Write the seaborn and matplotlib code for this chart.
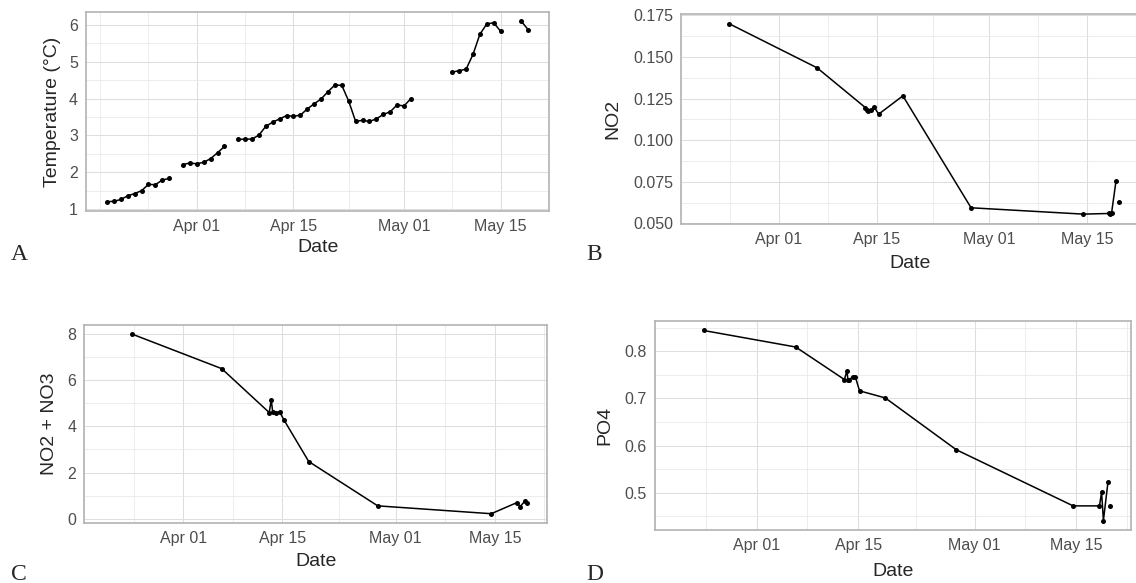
import numpy as np
import pandas as pd
import matplotlib
matplotlib.use("Agg")
import matplotlib.pyplot as plt
import matplotlib.dates as mdates
import seaborn as sns

nan = np.nan

# Panel A: daily water temperature (gaps = missing days)
TEMP_DATES = pd.date_range("2019-03-19", "2019-05-19", freq="D")
TEMP = [1.20, 1.21, 1.26, 1.36, 1.42, 1.50, 1.67, 1.66, 1.79, 1.83,
        nan,
        2.21, 2.25, 2.23, 2.27, 2.37, 2.53, 2.70,
        nan,
        2.89, 2.90, 2.90, 3.01, 3.25, 3.36, 3.45, 3.54, 3.52, 3.55, 3.72, 3.86, 3.99,
        4.19, 4.37, 4.36, 3.93, 3.38, 3.41, 3.38, 3.45, 3.57, 3.64, 3.83, 3.80, 4.00,
        nan, nan, nan, nan, nan,
        4.72, 4.76, 4.80, 5.20, 5.75, 6.03, 6.06, 5.83,
        nan, nan,
        6.10, 5.87]

# Panel B: NO2
NO2_DATES = ["2019-03-24 20:00", "2019-04-06 11:00", "2019-04-13 08:00", "2019-04-13 14:00",
             "2019-04-13 19:00", "2019-04-14 02:00", "2019-04-14 14:00", "2019-04-15 06:00",
             "2019-04-18 17:00", "2019-04-28 11:00", "2019-05-14 12:00", "2019-05-18 05:00",
             "2019-05-18 09:00", "2019-05-18 13:00", "2019-05-19 04:00", "2019-05-19 09:00",
             "2019-05-19 14:00"]
NO2 = [0.1700, 0.1434, 0.1196, 0.1180, 0.1174, 0.1180, 0.1200, 0.1156,
       0.1266, 0.0594, 0.0556, 0.0560, 0.0554, 0.0564, 0.0754, nan, 0.0626]

# Panel C: NO2 + NO3
NOX_DATES = ["2019-03-24 17:00", "2019-04-06 10:00", "2019-04-13 03:00", "2019-04-13 10:00",
             "2019-04-13 15:00", "2019-04-14 03:00", "2019-04-14 14:00", "2019-04-15 05:00",
             "2019-04-18 17:00", "2019-04-28 11:00", "2019-05-14 12:00", "2019-05-18 03:00",
             "2019-05-18 14:00", "2019-05-19 05:00", "2019-05-19 14:00"]
NOX = [8.00, 6.50, 4.60, 5.14, 4.62, 4.56, 4.64, 4.28, 2.48, 0.56, 0.22, 0.70, 0.53, 0.75, 0.68]

# Panel D: PO4
PO4_DATES = ["2019-03-24 17:00", "2019-04-06 09:00", "2019-04-13 02:00", "2019-04-13 10:00",
             "2019-04-13 14:00", "2019-04-13 17:00", "2019-04-14 05:00", "2019-04-14 14:00",
             "2019-04-15 04:00", "2019-04-18 17:00", "2019-04-28 12:00", "2019-05-14 14:00",
             "2019-05-18 05:00", "2019-05-18 12:00", "2019-05-18 18:00", "2019-05-19 09:00",
             "2019-05-19 12:00", "2019-05-19 17:00"]
PO4 = [0.844, 0.809, 0.740, 0.758, 0.739, 0.739, 0.746, 0.746, 0.716, 0.701, 0.591,
       0.472, 0.472, 0.501, 0.441, 0.522, nan, 0.472]

MAJOR_DATES = ["2019-04-01", "2019-04-15", "2019-05-01", "2019-05-15"]
MINOR_DATES = ["2019-03-18", "2019-03-25", "2019-04-08", "2019-04-23", "2019-05-08", "2019-05-22"]

W, H = 1136, 583

sns.set_style("white")
plt.rcParams["font.family"] = ["Liberation Sans", "DejaVu Sans"]

fig = plt.figure(figsize=(W / 100, H / 100), dpi=100)


def make_ax(left, right, top, bottom):
    return fig.add_axes([left / W, 1 - bottom / H, (right - left) / W, (bottom - top) / H])


def draw_panel(box, dates, values, ylabel, ymajor, ymin, yfmt, ylab_x, xlab_y, letter, letter_xy):
    left, right, top, bottom = box
    ax = make_ax(left, right, top, bottom)
    df = pd.DataFrame({"date": pd.to_datetime(dates), "value": values})
    df["seg"] = df["value"].isna().cumsum()

    sns.lineplot(data=df, x="date", y="value", units="seg", estimator=None,
                 color="black", linewidth=1.1, ax=ax)
    sns.scatterplot(data=df, x="date", y="value", color="black", s=13, linewidth=0, ax=ax, zorder=3)

    # ggplot-like 5% expansion
    t0, t1 = df["date"].min(), df["date"].max()
    span = t1 - t0
    ax.set_xlim(t0 - 0.05 * span, t1 + 0.05 * span)
    v0, v1 = np.nanmin(df["value"]), np.nanmax(df["value"])
    ax.set_ylim(v0 - 0.05 * (v1 - v0), v1 + 0.05 * (v1 - v0))

    ax.set_xticks(mdates.date2num(pd.to_datetime(MAJOR_DATES)))
    ax.set_xticks(mdates.date2num(pd.to_datetime(MINOR_DATES)), minor=True)
    ax.xaxis.set_major_formatter(mdates.DateFormatter("%b %d"))
    ax.set_yticks(ymajor)
    ax.set_yticks(ymin, minor=True)
    ax.set_yticklabels([yfmt.format(v) for v in ymajor])

    ax.grid(which="major", color="#DEDEDE", linewidth=0.75)
    ax.grid(which="minor", color="#E8E8E8", linewidth=0.55)
    ax.set_axisbelow(True)
    ax.tick_params(which="major", length=2.75, width=0.7, color="#B3B3B3",
                   labelsize=11.5, labelcolor="#4D4D4D", pad=3)
    ax.tick_params(which="minor", length=0)
    for s in ax.spines.values():
        s.set_color("#B3B3B3")
        s.set_linewidth(1.2)

    ax.set_xlabel("Date", fontsize=14, va="center")
    ax.set_ylabel(ylabel, fontsize=14, va="center")
    ax.xaxis.set_label_coords(0.5, -(xlab_y - bottom) / (bottom - top))
    ax.yaxis.set_label_coords(-(left - ylab_x) / (right - left), 0.5)

    fig.text(letter_xy[0] / W, 1 - letter_xy[1] / H, letter, family="Liberation Serif",
             fontsize=17, ha="center", va="center")
    return ax


draw_panel((86, 549.3, 12.3, 210.7), TEMP_DATES, TEMP, "Temperature (°C)",
           [1, 2, 3, 4, 5, 6], [1.5, 2.5, 3.5, 4.5, 5.5], "{:.0f}",
           53, 248, "A", (19, 255))
draw_panel((681, 1138.4, 14, 224), NO2_DATES, NO2, "NO2",
           [0.050, 0.075, 0.100, 0.125, 0.150, 0.175],
           [0.0625, 0.0875, 0.1125, 0.1375, 0.1625], "{:.3f}",
           613, 263.5, "B", (594.5, 255))
draw_panel((84.3, 547, 325, 522.7), NOX_DATES, NOX, "NO2 + NO3",
           [0, 2, 4, 6, 8], [1, 3, 5, 7], "{:.0f}",
           49.3, 561.7, "C", (18.5, 574))
draw_panel((655, 1130.7, 321, 530), PO4_DATES, PO4, "PO4",
           [0.5, 0.6, 0.7, 0.8], [0.45, 0.55, 0.65, 0.75, 0.85], "{:.1f}",
           605, 571.7, "D", (595, 574))

fig.savefig("out.png", dpi=100)
